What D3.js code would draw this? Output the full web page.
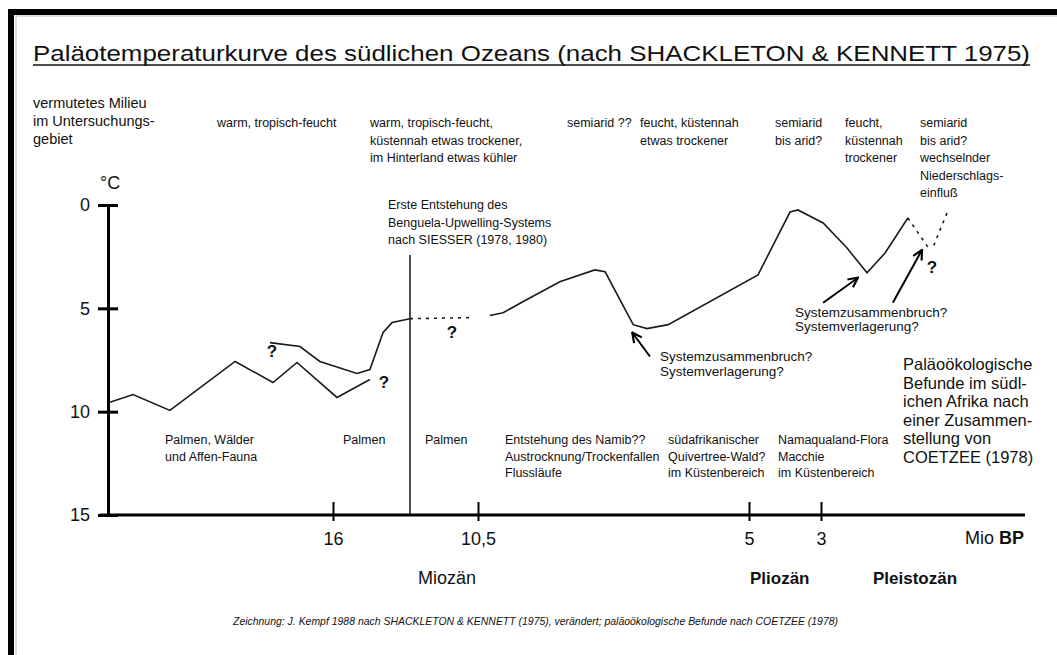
<!DOCTYPE html>
<html lang="de">
<head>
  <meta charset="UTF-8">
  <title>Paläotemperaturkurve des südlichen Ozeans</title>
  <script src="https://d3js.org/d3.v7.min.js"></script>
  <style>
    body {
      margin: 0;
      background: #fff;
    }

    svg {
      display: block;
      font-family: "Liberation Sans", Arial, sans-serif;
      fill: #111;
    }

    .note { font-size: 12px; }
    .tick text { font-size: 18px; fill: #111; }
    .curve { fill: none; stroke: #1a1a1a; stroke-width: 1.6; }
    .dotted { fill: none; stroke: #1a1a1a; stroke-width: 1.6; stroke-dasharray: 3 5; }
    .qmark { font-size: 17px; font-weight: bold; text-anchor: middle; }
  </style>
</head>
<body>

<svg width="1057" height="655"></svg>

<script>
  // Ages in Mio. Jahre BP, temperatures in °C
  const ageTicks = [16, 10.5, 5, 3];
  const ageTickLabels = ["16", "10,5", "5", "3"];
  const tempTicks = [0, 5, 10, 15];

  // older, lower curve (ends with "?")
  const lowerAge  = [21.95, 21.33, 20.35, 18.61, 17.6, 16.96, 15.85, 14.6];
  const lowerTemp = [9.55, 9.17, 9.94, 7.57, 8.59, 7.62, 9.31, 8.44];

  // upper curve up to the Benguela line
  const upperAge  = [17.68, 16.88, 16.35, 15.09, 14.6, 14.1, 13.76, 13.08];
  const upperTemp = [6.66, 6.85, 7.57, 8.15, 7.96, 6.17, 5.69, 5.5];

  // gap (dotted, uncertain)
  const gapAge  = [13.08, 10.8];
  const gapTemp = [5.5, 5.45];

  // main curve
  const mainAge  = [10.26, 9.99, 9.59, 8.84, 8.13, 7.92, 7.35, 7.07, 6.64, 4.75, 3.86, 3.64, 2.95, 2.4, 1.93, 1.51, 0.98];
  const mainTemp = [5.35, 5.21, 4.68, 3.71, 3.14, 3.23, 5.79, 5.98, 5.79, 3.38, 0.34, 0.24, 0.87, 2.07, 3.28, 2.32, 0.63];

  // two dotted ends at the youngest part
  const tailAAge  = [0.98, 0.47];
  const tailATemp = [0.63, 2.17];
  const tailBAge  = [0.07, 0.4];
  const tailBTemp = [0.39, 2.07];

  const benguelaAge = 13.08;

  const questionAge  = [17.63, 14.07, 11.49, 0.42];
  const questionTemp = [7.09, 8.59, 6.17, 2.99];

  // arrows: [tail age, tail temp, tip age, tip temp]
  const arrows = [
    [7.01, 7.33, 7.37, 6.17],
    [2.95, 4.73, 2.14, 3.52],
    [1.33, 4.73, 0.65, 2.17]
  ];

  const milieuTop = [
    ["warm, tropisch-feucht"],
    ["warm, tropisch-feucht,", "küstennah etwas trockener,", "im Hinterland etwas kühler"],
    ["semiarid ??"],
    ["feucht, küstennah", "etwas trockener"],
    ["semiarid", "bis arid?"],
    ["feucht,", "küstennah", "trockener"],
    ["semiarid", "bis arid?", "wechselnder", "Niederschlags-", "einfluß"]
  ];

  const befundeBottom = [
    ["Palmen, Wälder", "und Affen-Fauna"],
    ["Palmen"],
    ["Palmen"],
    ["Entstehung des Namib??", "Austrocknung/Trockenfallen", "Flussläufe"],
    ["südafrikanischer", "Quivertree-Wald?", "im Küstenbereich"],
    ["Namaqualand-Flora", "Macchie", "im Küstenbereich"]
  ];

  const svg = d3.select("svg");

  const x = d3.scaleLinear()
      .domain([22, 16, 10.5, 5, 3, 0])
      .range([108, 333, 478, 749, 821, 950]);

  const y = d3.scaleLinear()
      .domain([0, 15])
      .range([205, 515]);

  // frame of the scanned sheet
  svg.append("rect").attr("x", 8).attr("y", 9).attr("width", 1049).attr("height", 6).attr("fill", "#000");
  svg.append("rect").attr("x", 8).attr("y", 9).attr("width", 6).attr("height", 646).attr("fill", "#000");
  svg.append("path").attr("d", "M16,655V16H1057").attr("fill", "none").attr("stroke", "#bbb");

  // title
  svg.append("text")
      .attr("x", 33).attr("y", 61)
      .attr("textLength", 997).attr("lengthAdjust", "spacingAndGlyphs")
      .style("font-size", "22px")
      .text("Paläotemperaturkurve des südlichen Ozeans (nach SHACKLETON & KENNETT 1975)");
  svg.append("line")
      .attr("x1", 33).attr("x2", 1030).attr("y1", 65).attr("y2", 65)
      .attr("stroke", "#111").attr("stroke-width", 1.5);

  // helper for multi-line notes
  function note(lines, px, py, lh, size) {
    const t = svg.append("text").attr("class", "note");
    if (size) t.style("font-size", size + "px");
    lines.forEach((s, i) => {
      t.append("tspan").attr("x", px).attr("y", py + i * lh).text(s);
    });
    return t;
  }

  note(["vermutetes Milieu", "im Untersuchungs-", "gebiet"], 33, 108, 18, 14.5);

  const topX = [217, 370, 567, 640, 775, 845, 920];
  milieuTop.forEach((lines, i) => note(lines, topX[i], 127, 17.5, 12.5));

  const bottomX = [165, 343, 425, 505, 668, 778];
  befundeBottom.forEach((lines, i) => note(lines, bottomX[i], 444, 16.5, 12.5));

  note(["Paläoökologische", "Befunde im südl-", "ichen Afrika nach", "einer Zusammen-", "stellung von", "COETZEE (1978)"],
       903, 370, 18.6, 16.5);

  note(["Systemzusammenbruch?", "Systemverlagerung?"], 660, 361, 15, 13.5);
  note(["Systemzusammenbruch?", "Systemverlagerung?"], 795, 317, 14, 13.5);

  note(["Erste Entstehung des", "Benguela-Upwelling-Systems", "nach SIESSER (1978, 1980)"], 388, 209, 17.5, 12.5);

  // axes
  const yAxis = svg.append("g")
      .attr("transform", `translate(${x(22)},0)`)
      .call(d3.axisLeft(y).tickValues(tempTicks).tickSizeOuter(0).tickSize(10).tickPadding(8));
  yAxis.select(".domain").attr("stroke", "#000").attr("stroke-width", 3);
  yAxis.selectAll(".tick line").attr("x1", 10).attr("x2", -10).attr("stroke", "#000").attr("stroke-width", 3);
  yAxis.selectAll(".tick text").attr("x", -18);

  svg.append("text")
      .attr("x", 100).attr("y", 189)
      .style("font-size", "18px")
      .text("°C");

  const axisEnd = 1025;
  const xAxis = svg.append("g")
      .attr("transform", `translate(0,${y(15)})`)
      .call(d3.axisBottom(x).tickValues(ageTicks).tickFormat((d, i) => ageTickLabels[i]).tickSizeOuter(0));
  xAxis.select(".domain")
      .attr("d", `M${x(22) - 8},0H${axisEnd}`)
      .attr("stroke", "#000").attr("stroke-width", 3);
  xAxis.selectAll(".tick line").attr("y1", -13).attr("y2", 6).attr("stroke", "#000").attr("stroke-width", 2);
  xAxis.selectAll(".tick text").attr("y", 17);

  const mio = svg.append("text").attr("x", 965).attr("y", 544).style("font-size", "18px");
  mio.append("tspan").text("Mio ");
  mio.append("tspan").style("font-weight", "bold").text("BP");

  svg.append("text").attr("x", 418).attr("y", 584).style("font-size", "18px").text("Miozän");
  svg.append("text").attr("x", 750).attr("y", 584).style("font-size", "17px").style("font-weight", "bold").text("Pliozän");
  svg.append("text").attr("x", 873).attr("y", 584).style("font-size", "17px").style("font-weight", "bold").text("Pleistozän");

  // Benguela marker
  svg.append("line")
      .attr("x1", x(benguelaAge)).attr("x2", x(benguelaAge))
      .attr("y1", 255).attr("y2", y(15))
      .attr("stroke", "#111").attr("stroke-width", 1.5);

  // curves
  const line = d3.line().x(d => x(d[0])).y(d => y(d[1]));

  svg.append("path").attr("class", "curve").attr("d", line(d3.zip(lowerAge, lowerTemp)));
  svg.append("path").attr("class", "curve").attr("d", line(d3.zip(upperAge, upperTemp)));
  svg.append("path").attr("class", "dotted").attr("d", line(d3.zip(gapAge, gapTemp)));
  svg.append("path").attr("class", "curve").attr("d", line(d3.zip(mainAge, mainTemp)));
  svg.append("path").attr("class", "dotted").attr("d", line(d3.zip(tailAAge, tailATemp)));
  svg.append("path").attr("class", "dotted").attr("d", line(d3.zip(tailBAge, tailBTemp)));

  svg.selectAll(".qmark")
      .data(d3.zip(questionAge, questionTemp))
      .enter()
      .append("text")
      .attr("class", "qmark")
      .attr("x", d => x(d[0]))
      .attr("y", d => y(d[1]))
      .attr("dy", "0.35em")
      .text("?");

  // arrows
  svg.append("defs").append("marker")
      .attr("id", "head")
      .attr("viewBox", "0 0 10 10")
      .attr("refX", 9).attr("refY", 5)
      .attr("markerWidth", 6).attr("markerHeight", 6)
      .attr("orient", "auto")
      .append("path")
      .attr("d", "M1,1L9,5L1,9")
      .attr("fill", "none").attr("stroke", "#000").attr("stroke-width", 1.8);

  svg.selectAll(".arrow")
      .data(arrows)
      .enter()
      .append("line")
      .attr("class", "arrow")
      .attr("x1", d => x(d[0])).attr("y1", d => y(d[1]))
      .attr("x2", d => x(d[2])).attr("y2", d => y(d[3]))
      .attr("stroke", "#000").attr("stroke-width", 2)
      .attr("marker-end", "url(#head)");

  // footer
  svg.append("text")
      .attr("x", 233).attr("y", 625)
      .attr("textLength", 605).attr("lengthAdjust", "spacingAndGlyphs")
      .style("font-size", "10.5px").style("font-style", "italic")
      .text("Zeichnung: J. Kempf 1988 nach SHACKLETON & KENNETT (1975), verändert; paläoökologische Befunde nach COETZEE (1978)");
</script>

</body>
</html>
